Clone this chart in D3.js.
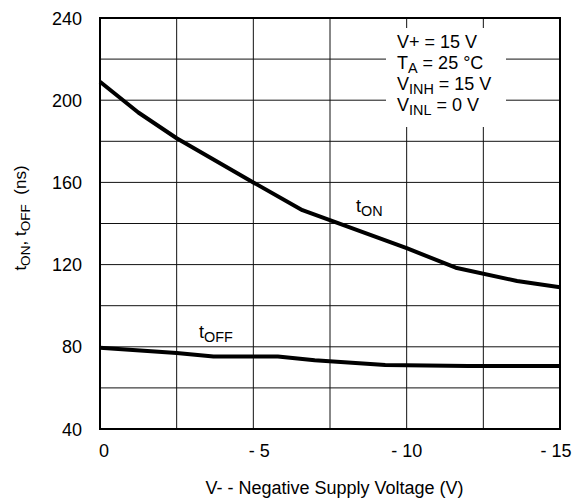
<!DOCTYPE html>
<html>
<head>
<meta charset="utf-8">
<script src="https://cdn.jsdelivr.net/npm/d3@7"></script>
<style>
  body { margin: 0; background: #fff; }
  svg text { font-family: "Liberation Sans", Arial, sans-serif; fill: #000; }
</style>
</head>
<body>
<script>
// supply voltage V- (V) and switching times (ns)
const tOnV   = [0, -1.25, -2.5, -5, -6.6, -10, -11.6, -13.6, -15];
const tOnNs  = [209, 194, 181.5, 160, 146.5, 128, 118.5, 112, 109];
const tOffV  = [0, -2.5, -3.7, -5.8, -7, -9.3, -12, -15];
const tOffNs = [79.5, 77, 75.3, 75.3, 73.5, 71.2, 70.7, 70.7];

const xTickLabels = [0, -5, -10, -15];
const yTickLabels = [40, 80, 120, 160, 200, 240];
const xGrid = [0, -2.5, -5, -7.5, -10, -12.5, -15];
const yGrid = [40, 60, 80, 100, 120, 140, 160, 180, 200, 220, 240];

const W = 587, H = 501;
const margin = {left: 100, top: 18, right: 27, bottom: 72};

const svg = d3.select('body').append('svg')
  .attr('width', W).attr('height', H);

const x = d3.scaleLinear().domain([0, -15]).range([margin.left, W - margin.right]);
const y = d3.scaleLinear().domain([40, 240]).range([H - margin.bottom, margin.top]);

// grid
svg.append('g').selectAll('line').data(xGrid).join('line')
  .attr('x1', d => x(d)).attr('x2', d => x(d))
  .attr('y1', y(40)).attr('y2', y(240))
  .attr('stroke', '#111').attr('stroke-width', 1);
svg.append('g').selectAll('line').data(yGrid).join('line')
  .attr('x1', x(0)).attr('x2', x(-15))
  .attr('y1', d => y(d)).attr('y2', d => y(d))
  .attr('stroke', '#111').attr('stroke-width', 1);

// white box behind the conditions
svg.append('rect')
  .attr('x', 386).attr('y', 28).attr('width', 120).attr('height', 99)
  .attr('fill', '#fff');

// frame
svg.append('rect')
  .attr('x', x(0)).attr('y', y(240))
  .attr('width', x(-15) - x(0)).attr('height', y(40) - y(240))
  .attr('fill', 'none').attr('stroke', '#000').attr('stroke-width', 2);

// curves
const line = d3.line().x(d => x(d[0])).y(d => y(d[1]));
svg.append('path')
  .attr('d', line(d3.zip(tOnV, tOnNs)))
  .attr('fill', 'none').attr('stroke', '#000').attr('stroke-width', 4)
  .attr('stroke-linejoin', 'round');
svg.append('path')
  .attr('d', line(d3.zip(tOffV, tOffNs)))
  .attr('fill', 'none').attr('stroke', '#000').attr('stroke-width', 4)
  .attr('stroke-linejoin', 'round');

// tick labels
svg.append('g').selectAll('text').data(yTickLabels).join('text')
  .attr('x', 82).attr('y', d => y(d) + 6.5)
  .attr('text-anchor', 'end').attr('font-size', 18)
  .text(d => d);
svg.append('g').selectAll('text').data(xTickLabels).join('text')
  .attr('x', d => x(d) + (d === 0 ? 4 : (d === -5 ? 6 : (d === -15 ? -4 : 0)))).attr('y', 457)
  .attr('text-anchor', 'middle').attr('font-size', 18)
  .text(d => d === 0 ? '0' : '- ' + Math.abs(d));

// axis titles
svg.append('text')
  .attr('x', 334.5).attr('y', 494)
  .attr('text-anchor', 'middle').attr('font-size', 18)
  .text('V- - Negative Supply Voltage (V)');

function subText(g, parts, size) {
  // parts: [text, isSub, dy]
  const t = g.append('text').attr('font-size', size);
  parts.forEach(p => {
    if (p[1]) {
      t.append('tspan').attr('font-size', size * 0.8).attr('dy', 4).text(p[0]);
    } else {
      t.append('tspan').attr('dy', p[2] || 0).text(p[0]);
    }
  });
  return t;
}

const yt = subText(svg.append('g').attr('transform', 'translate(26,218) rotate(-90)'),
  [['t'], ['ON', 1], [', t', 0, -4], ['OFF', 1], ['  (ns)', 0, -4]], 17);
yt.attr('text-anchor', 'middle').attr('xml:space', 'preserve');

subText(svg.append('g').attr('transform', 'translate(356,212)'), [['t'], ['ON', 1]], 18);
subText(svg.append('g').attr('transform', 'translate(199,338)'), [['t'], ['OFF', 1]], 18);

// conditions
const cond = svg.append('g').attr('transform', 'translate(397,0)');
subText(cond.append('g').attr('transform', 'translate(0,48)'), [['V+ = 15 V']], 18);
subText(cond.append('g').attr('transform', 'translate(0,69)'), [['T'], ['A', 1], [' = 25 °C', 0, -4]], 18);
subText(cond.append('g').attr('transform', 'translate(0,90)'), [['V'], ['INH', 1], [' = 15 V', 0, -4]], 18);
subText(cond.append('g').attr('transform', 'translate(0,111)'), [['V'], ['INL', 1], [' = 0 V', 0, -4]], 18);
</script>
</body>
</html>
